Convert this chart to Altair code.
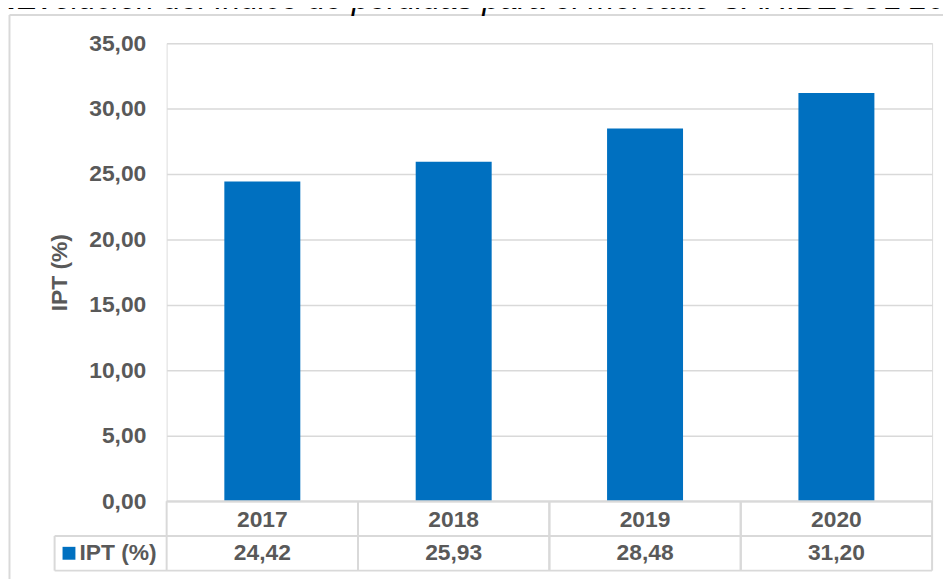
import altair as alt
import pandas as pd

years = ["2017", "2018", "2019", "2020"]
ipt = [24.42, 25.93, 28.48, 31.20]
series_name = "IPT (%)"
y_ticks = [0, 5, 10, 15, 20, 25, 30, 35]
title_num = "2."
title_text = "Evolución del índice de pérdidas para el mercado CARIBESOL 2017-2020"

W, H = 772, 462
FONT = "Liberation Sans"
GRAY = "#595959"
LINE = "#D9D9D9"
BLUE = "#0070C0"

df = pd.DataFrame({"year": years, "ipt": ipt})
one = pd.DataFrame({"name": [series_name]})

xs = alt.Scale(domain=years, paddingInner=0, paddingOuter=0)

base = alt.Chart(df).transform_calculate(
    label="replace(format(datum.ipt, '.2f'), '.', ',')"
)

bars = base.mark_bar(color=BLUE, width=alt.RelativeBandSize(0.397)).encode(
    x=alt.X("year:N", scale=xs, axis=None, sort=years),
    y=alt.Y(
        "ipt:Q",
        scale=alt.Scale(domain=[0, 35], nice=False, zero=True),
        axis=alt.Axis(
            values=y_ticks,
            labelExpr="replace(format(datum.value, '.2f'), '.', ',')",
            labelFontSize=23,
            labelFont=FONT,
            labelFontWeight="bold",
            labelColor=GRAY,
            labelPadding=21,
            ticks=False,
            domain=False,
            gridColor=LINE,
            gridWidth=1.5,
            title=series_name,
            titleFont=FONT,
            titleFontSize=23,
            titleFontWeight="bold",
            titleColor=GRAY,
            titleX=-108,
            titleY=H / 2,
            titleAngle=270,
            titleAlign="center",
            titleBaseline="middle",
        ),
    ),
)

vlines_left = base.mark_rule(color=LINE, strokeWidth=2).encode(
    x=alt.X("year:N", scale=xs, bandPosition=0, sort=years),
    y=alt.value(H),
    y2=alt.value(H + 70),
)
vlines_right = base.mark_rule(color=LINE, strokeWidth=2).encode(
    x=alt.X("year:N", scale=xs, bandPosition=1, sort=years),
    y=alt.value(H),
    y2=alt.value(H + 70),
)

frame = alt.Chart(one)
hline_top = frame.mark_rule(color=LINE, strokeWidth=2).encode(
    x=alt.value(0), x2=alt.value(W), y=alt.value(H)
)
hline_mid = frame.mark_rule(color=LINE, strokeWidth=2).encode(
    x=alt.value(-113), x2=alt.value(W), y=alt.value(H + 35)
)
hline_bot = frame.mark_rule(color=LINE, strokeWidth=2).encode(
    x=alt.value(-113), x2=alt.value(W), y=alt.value(H + 70)
)
vline_lab = frame.mark_rule(color=LINE, strokeWidth=2).encode(
    x=alt.value(-113), y=alt.value(H + 35), y2=alt.value(H + 70)
)

# outer chart border (extends past the visible page)
border_top = frame.mark_rule(color=LINE, strokeWidth=2).encode(
    x=alt.value(-158.5), x2=alt.value(W + 40), y=alt.value(-28.5)
)
border_left = frame.mark_rule(color=LINE, strokeWidth=2).encode(
    x=alt.value(-158.5), y=alt.value(-28.5), y2=alt.value(H + 140)
)

header = base.mark_text(
    fontSize=23, font=FONT, fontWeight="bold", color=GRAY, baseline="middle"
).encode(
    x=alt.X("year:N", scale=xs, sort=years),
    y=alt.value(H + 18.5),
    text="year:N",
)
values = base.mark_text(
    fontSize=23, font=FONT, fontWeight="bold", color=GRAY, baseline="middle"
).encode(
    x=alt.X("year:N", scale=xs, sort=years),
    y=alt.value(H + 52.5),
    text="label:N",
)

key = frame.mark_square(color=BLUE, size=169, opacity=1).encode(
    x=alt.value(-98.5), y=alt.value(H + 52.5)
)
key_label = frame.mark_text(
    fontSize=23, font=FONT, fontWeight="bold", color=GRAY, align="left", baseline="middle"
).encode(x=alt.value(-88), y=alt.value(H + 52.5), text="name:N")

title_a = frame.mark_text(
    fontSize=32, font=FONT, fontWeight="bold", fontStyle="italic", color="black",
    align="right", baseline="alphabetic",
).encode(x=alt.value(-151), y=alt.value(-34), text=alt.value(title_num))
title_b = frame.mark_text(
    fontSize=32, font=FONT, fontStyle="italic", color="black",
    align="left", baseline="alphabetic",
).encode(x=alt.value(-151), y=alt.value(-34), text=alt.value(title_text))

chart = alt.layer(
    bars, vlines_left, vlines_right, hline_top, hline_mid, hline_bot, vline_lab,
    border_top, border_left, header, values, key, key_label, title_a, title_b,
).properties(
    width=W,
    height=H,
    autosize=alt.AutoSizeParams(type="none"),
    padding={"left": 160, "top": 33, "right": 11, "bottom": 76},
).configure_view(strokeWidth=0).configure(background="white")

chart.save("out.html", embed_options={"renderer": "svg", "actions": False})
